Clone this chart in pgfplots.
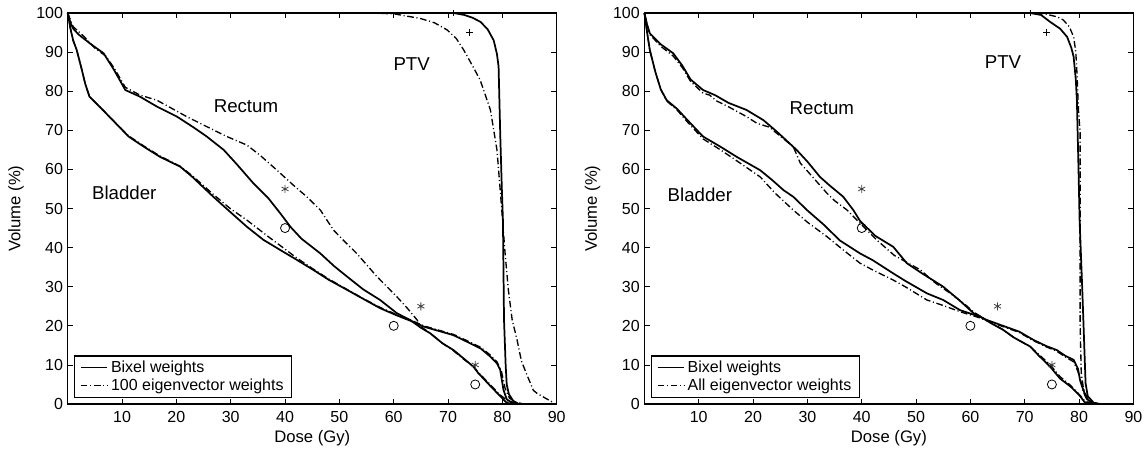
\documentclass[border=0pt]{standalone}
\usepackage{fontspec}
\setmainfont{Liberation Sans}
\usepackage{pgfplots}
\pgfplotsset{compat=1.18}
\begin{document}
\begin{tikzpicture}
\tikzset{lbl/.style={font=\fontsize{14}{16}\selectfont}}
\pgfplotsset{
  dvh/.style={
    scale only axis, width=366.75pt, height=293.25pt,
    xmin=0, xmax=90, ymin=0, ymax=100,
    xtick={10,20,...,90}, ytick={0,10,...,100},
    tick align=inside, major tick length=4pt,
    axis line style={line width=0.9pt},
    tick style={line width=0.6pt, black},
    ticklabel style={font=\fontsize{12}{14}\selectfont},
    /pgf/number format/assume math mode=true,
    x tick label style={yshift=-2pt},
    xlabel={Dose (Gy)}, ylabel={Volume (\%)},
    every axis x label/.style={at={(axis description cs:0.5,0)}, yshift=-25.5pt,
      anchor=center, font=\fontsize{12.5}{15}\selectfont},
    every axis y label/.style={at={(axis description cs:-0.1058,0.5)}, rotate=90,
      anchor=center, font=\fontsize{12.5}{15}\selectfont},
    clip=false,
    legend cell align=left,
    legend style={at={(axis description cs:0.013,0.016)}, anchor=south west,
      draw=black, line width=0.8pt, font=\fontsize{12}{14}\selectfont,
      inner xsep=4pt, inner ysep=1.5pt, row sep=-0.5pt},
    legend image code/.code={\draw[#1] (0pt,0pt) -- (20pt,0pt);},
  },
  bix/.style={black, line width=1.3pt},
  eig/.style={black, line width=1.0pt, dash pattern=on 5pt off 2pt on 0.8pt off 2pt},
  mk/.style={only marks, forget plot, mark options={solid, line width=0.6pt}},
}

% left: bixel weights vs 100 eigenvector weights
\begin{axis}[dvh, at={(0,0)}, anchor=origin]
  % bladder
  \addplot[bix] coordinates {
    (0,100) (0.5,96) (1,93) (1.66,90.5) (2.5,86) (3.2,82) (4,78.6) (5.9,76) (8,73)
    (11.2,68.4) (14,65.8) (17,63.2) (20.7,60.7) (23,58) (26.8,53) (30,49) (33,45.3)
    (36,42) (39.1,39.4) (42,37) (45.2,34.3) (48,31.8) (51.4,29.2) (54.5,26.8)
    (57.5,24.5) (60.5,22.7) (63.6,21) (65.5,19.8) (68,18.8) (71,17.6) (74.1,15.5)
    (76,14.2) (77.8,12.1) (79,10.4) (79.6,8.7) (80.2,3.6) (80.8,1.2) (81.8,0.3) (83,0)};
  \addlegendentry{Bixel weights}
  \addplot[eig] coordinates {
    (0,100) (0.5,96) (1,93) (1.66,90.5) (2.5,86) (3.2,82) (4,78.6) (5.9,76) (8,73)
    (11.2,68.6) (14,66) (17,63.4) (20.7,60.8) (23,58.3) (26.8,53.6) (29.9,50) (33,47)
    (37.3,42.4) (40,39.6) (42,37.5) (45.2,34.5) (48,32) (51.4,29.3) (54.5,26.9)
    (57.5,24.7) (60.5,22.9) (63.6,21.2) (65.5,20) (68,19) (71,17.8) (74.1,15.8)
    (76,14.5) (77.8,12.5) (79,10.8) (79.8,8.5) (80.5,4) (81.3,1.5) (82.5,0.4) (84,0)};
  \addlegendentry{100 eigenvector weights}
  % rectum
  \addplot[bix, forget plot] coordinates {
    (0,100) (0.5,97.5) (1,96) (2,94.5) (4.1,92.2) (6.6,89.7) (8.5,85.5) (10.6,80.3)
    (13.3,78.6) (16.5,76) (20.1,73.5) (23.1,70.8) (25.5,68.5) (28.7,65) (31,61.5)
    (34.2,56.4) (37,52.5) (39.1,48.8) (41,45.3) (43,42.3) (46.5,38.5) (49,35.3)
    (51.4,32.6) (54.4,29.3) (57.5,26.6) (60.6,23.2) (63,21.5) (65,19.5) (66.7,18.1)
    (69,15.5) (71,13.8) (73,11.5) (74.7,9.5) (75.5,8) (77.8,4.6) (79.6,2) (80.8,0.3) (82,0)};
  \addplot[eig, forget plot] coordinates {
    (0,100) (1,96.5) (3,94) (5,91) (7,89) (8.5,86) (10.6,81) (13.3,79) (16.4,77.7)
    (21.9,73.5) (26.8,70.1) (29.3,68.4) (33,66.2) (35.5,63.5) (38.5,59.8) (41.5,56)
    (44,53) (46.5,49.6) (48.9,44.5) (51,41.5) (53.2,38.5) (56.9,32.6) (60.6,27.4)
    (62.5,24.5) (64.3,21.5) (65,19.8) (66.7,18.1) (69,15.5) (71,13.6) (73,11.3)
    (74.7,9.6) (75.5,8.2) (77.8,4.9) (79.6,2.3) (81,0.8) (82.5,0.3) (84,0)};
  % PTV
  \addplot[bix, forget plot] coordinates {
    (0,100) (71,100) (73,99.5) (74.5,98.8) (76,97.7) (77.3,95.8) (78.4,93) (79,89.5)
    (79.3,86.3) (79.6,69.2) (79.9,55) (80.1,47) (80.3,21.5) (80.6,10) (80.8,5)
    (81.2,2.5) (82,0.8) (83,0)};
  \addplot[eig, forget plot] coordinates {
    (0,100) (55,100) (60,99.8) (64.9,98.6) (67.5,97.5) (69.8,95.7) (71.5,93.5)
    (72.9,90.5) (74.5,86.5) (75.9,82.9) (77.8,75.2) (79,65) (79.6,54.7) (80.5,38.5)
    (81.1,29.2) (81.8,21.5) (82.7,16.4) (83.5,11) (84.5,7.5) (85.7,3.5) (86.4,2.7)
    (88.8,0.8) (89.5,0.3)};
  % constraints
  \addplot[mk, mark=asterisk, mark size=3pt, black!75] coordinates {(40,55) (65,25) (75,10)};
  \addplot[mk, mark=o, mark size=3.4pt, black] coordinates {(40,45) (60,20) (75,5)};
  \addplot[mk, mark=+, mark size=2.6pt, black] coordinates {(74,95) (71,100)};
  \node[lbl] at (axis cs:32.8,76.2) {Rectum};
  \node[lbl] at (axis cs:10.4,54) {Bladder};
  \node[lbl] at (axis cs:63.3,87) {PTV};
\end{axis}

% right: bixel weights vs all eigenvector weights
\begin{axis}[dvh, at={(432.5pt,0)}, anchor=origin]
  % bladder
  \addplot[bix] coordinates {
    (0,100) (0.5,95) (1,90.5) (2,85) (3,80.5) (4.1,77.7) (6,75.5) (8,72.5) (10.8,68.4)
    (14,65.8) (17,63.2) (21.3,59.8) (23.5,57.3) (25.6,54.7) (27.4,53) (30,49.5)
    (32.9,46) (36,41.8) (39.7,38.5) (42,36.8) (45.8,33.4) (48,31.5) (52,28.3) (55,26.6)
    (58.1,24) (61.8,22.3) (63,21.5) (66,20) (69,18.5) (71.6,16.4) (74,14.8) (75.9,13.8)
    (77.5,12.3) (79,11.3) (79.8,9) (80.2,6) (80.8,3.5) (81.5,1.2) (82.5,0.3) (84,0)};
  \addlegendentry{Bixel weights}
  \addplot[eig] coordinates {
    (0,100) (0.5,95) (1,90.5) (2,85) (3,80.5) (4.1,77.5) (6,75.2) (8,72) (10.8,67.8)
    (14,65) (17,62.2) (21.3,58.1) (24,54) (27.4,49.6) (30,46.5) (33.6,42.8) (36.5,39.5)
    (39.7,36) (42,34.3) (45.8,31.7) (48,30) (52,26.6) (55,25.2) (58.1,23.6) (61.8,22)
    (63,21.3) (66,19.8) (69,18.3) (71.6,16.2) (74,14.6) (75.9,13.5) (77.5,12)
    (79,10.8) (79.8,8.3) (80.3,6) (80.8,3) (81.5,1) (82.5,0.3) (84,0)};
  \addlegendentry{All eigenvector weights}
  % rectum
  \addplot[bix, forget plot] coordinates {
    (0,100) (0.5,97) (1,94.8) (3,92) (5.3,89.7) (7,86.5) (8.5,83) (10.8,80.3) (13,79)
    (15.5,77) (18.8,75.2) (21.9,72.6) (24.5,69.5) (28,65) (30,62) (32.3,58.1) (34,56)
    (36.6,53) (38.5,49.5) (39.7,46.8) (42.5,43) (45.8,40.2) (48.3,36) (51,33.5)
    (55,30) (58,26.5) (60.6,23.2) (62,22.2) (64,20.5) (66,19) (68,17) (71,14.7)
    (72.5,12.5) (74.7,9.5) (76.5,6.5) (78.4,4.5) (79.5,3) (80.2,2) (81,0.5) (82,0)};
  \addplot[eig, forget plot] coordinates {
    (0,100) (0.5,97) (1,94.5) (3,91.5) (5.3,89) (7,86) (8.5,82.5) (10.8,79.5) (12,79)
    (13.3,77.5) (15.5,76) (18.8,73.5) (20.7,71.8) (23,70.8) (25,68.5) (27.4,65.8)
    (28.7,61.6) (31,58) (33.6,53.9) (35,52) (37.3,49.6) (40,45.8) (42.8,41.9) (46,38)
    (50.8,34.3) (53.5,31) (56.3,28.3) (59,25.5) (60.6,23.5) (62,22.3) (64,20.6)
    (66,19) (68,17) (71,14.7) (72.5,12.8) (74.7,10) (76.5,7) (78.4,4.8) (79.5,3.2)
    (80.2,2.2) (81,0.8) (82,0.3) (83.5,0)};
  % PTV
  \addplot[bix, forget plot] coordinates {
    (0,100) (71,100) (73,99.5) (74.7,97.7) (76.5,96) (77.8,93.9) (78.6,91) (79,88.8)
    (79.4,83) (79.6,77.7) (79.9,60) (80.1,47) (80.6,29) (81.2,5.3) (81.6,2)
    (82.7,0.3) (83.5,0)};
  \addplot[eig, forget plot] coordinates {
    (0,100) (72,100) (74,99.7) (76,99) (77.1,98.2) (78.2,96.5) (79,93.9) (79.4,90)
    (79.6,85) (79.9,75) (80.2,69.2) (80.2,50) (80.2,20) (80.4,8) (80.8,4) (81.5,1.5)
    (82.5,0.5) (83.5,0)};
  % constraints
  \addplot[mk, mark=asterisk, mark size=3pt, black!75] coordinates {(40,55) (65,25) (75,10)};
  \addplot[mk, mark=o, mark size=3.4pt, black] coordinates {(40,45) (60,20) (75,5)};
  \addplot[mk, mark=+, mark size=2.6pt, black] coordinates {(74,95) (71,100)};
  \node[lbl] at (axis cs:32.65,75.7) {Rectum};
  \node[lbl] at (axis cs:10.2,53.5) {Bladder};
  \node[lbl] at (axis cs:66,87.5) {PTV};
\end{axis}
\pgfresetboundingbox
\path (-50.8pt,-35.25pt) rectangle (810.2pt,303pt);
\end{tikzpicture}
\end{document}
